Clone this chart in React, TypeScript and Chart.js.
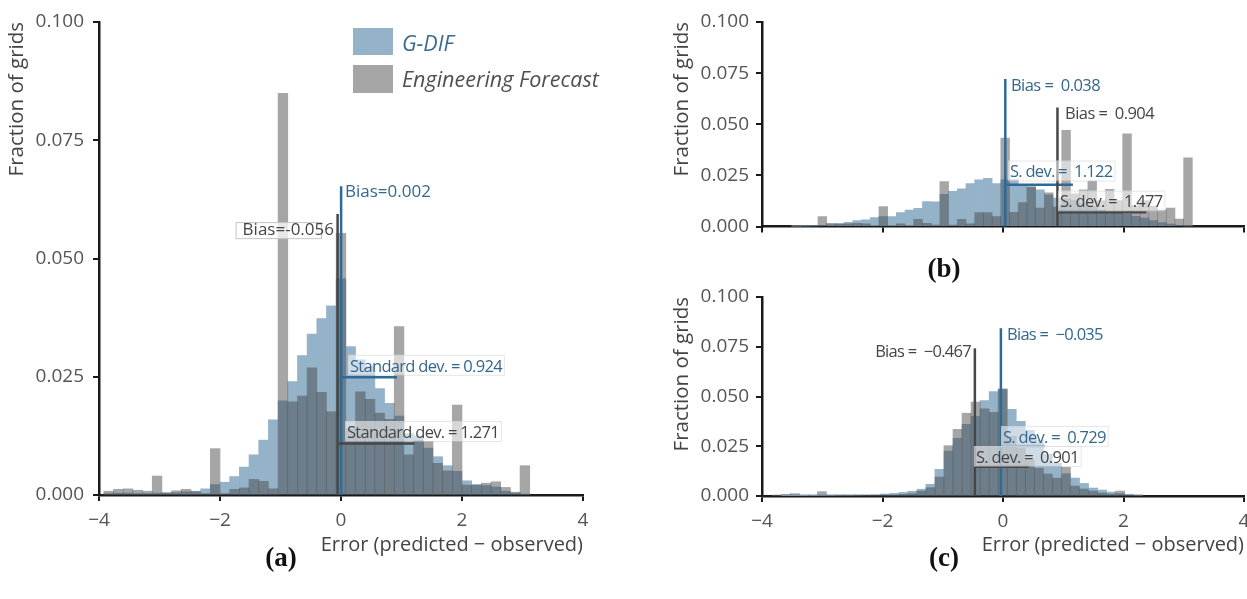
import React, { useEffect, useRef } from 'react';
import { Chart, registerables } from 'chart.js';

Chart.register(...registerables);

const FONT = "'Open Sans', 'DejaVu Sans', sans-serif";
Chart.defaults.font.family = FONT;

// ---------------- Panel (a) ----------------
const binStartA = -3.84;
const binWidthA = 0.16;
const gdifA = [
  0.0003, 0.0004, 0.0004, 0.0003, 0.0003, 0.0004, 0.0004, 0.0005, 0.0007, 0.0008,
  0.0013, 0.0022, 0.0027, 0.0039, 0.0059, 0.0085, 0.0116, 0.0159, 0.0199, 0.024,
  0.0295, 0.034, 0.0373, 0.04, 0.0457, 0.0314, 0.0286, 0.0272, 0.0225, 0.0194,
  0.0167, 0.013, 0.0125, 0.0099, 0.0081, 0.0062, 0.005, 0.003, 0.0022, 0.002,
  0.0017, 0.0008, 0.0004, 0.0002,
];
const engA = [
  0.0008, 0.0012, 0.0013, 0.001, 0.0008, 0.004, 0.0005, 0.0009, 0.0012, 0.0007,
  0.0003, 0.0098, 0.0003, 0.0012, 0.0015, 0.0033, 0.0029, 0.0013, 0.0849, 0.0197,
  0.0209, 0.0269, 0.0217, 0.0176, 0.0553, 0.014, 0.0218, 0.0202, 0.0173, 0.016,
  0.0356, 0.0085, 0.0115, 0.0113, 0.0067, 0.0051, 0.019, 0.0021, 0.0021, 0.0025,
  0.0028, 0.0016, 0.0006, 0.0062,
];
const biasA = [0.002, -0.056]; // [G-DIF, Engineering Forecast]
const sdA = [0.924, 1.271];
const biasTopA = [0.0653, 0.0594];
const sdLevelA = [0.0249, 0.0109];

// ---------------- Panel (b) ----------------
const binStartB = -3.432;
const binWidthB = 0.1445;
const gdifB = [
  0.0001, 0.0002, 0.0003, 0.0005, 0.001, 0.0016, 0.0021, 0.0029, 0.0033, 0.0044,
  0.0049, 0.0049, 0.0068, 0.0081, 0.0089, 0.0122, 0.0121, 0.0158, 0.0172, 0.0185,
  0.021, 0.0228, 0.0236, 0.021, 0.0228, 0.023, 0.02, 0.0192, 0.018, 0.0155,
  0.014, 0.0135, 0.0128, 0.0114, 0.0098, 0.0081, 0.0068, 0.0065, 0.006, 0.005,
  0.0042, 0.003, 0.002, 0.0012, 0.0005, 0.0003,
];
const engB = [
  0.0006, 0.0005, 0.0003, 0.0049, 0.0016, 0.0011, 0.0013, 0.0016, 0.0013, 0.0003,
  0.0098, 0.0003, 0.0013, 0.0005, 0.0036, 0.0016, 0.0008, 0.022, 0.0008, 0.0036,
  0.0013, 0.0068, 0.0068, 0.0049, 0.0433, 0.007, 0.0118, 0.0195, 0.009, 0.0165,
  0.0095, 0.047, 0.016, 0.018, 0.0222, 0.0127, 0.0182, 0.0127, 0.0454, 0.0103,
  0.0127, 0.01, 0.0081, 0.0091, 0.0037, 0.0336,
];
const biasB = [0.038, 0.904];
const sdB = [1.122, 1.477];
const biasTopB = [0.0722, 0.0582];
const sdLevelB = [0.0205, 0.007];

// ---------------- Panel (c) ----------------
const binStartC = -3.755;
const binWidthC = 0.15;
const gdifC = [
  0.0, 0.0002, 0.0002, 0.0002, 0.0002, 0.0003, 0.0002, 0.0003, 0.0003, 0.0004,
  0.0005, 0.0006, 0.001, 0.0013, 0.0018, 0.0024, 0.0034, 0.0059, 0.0134, 0.0226,
  0.029, 0.036, 0.04, 0.048, 0.0525, 0.0535, 0.0435, 0.0375, 0.033, 0.028,
  0.021, 0.0165, 0.0112, 0.009, 0.0063, 0.004, 0.003, 0.002, 0.0012, 0.0008,
  0.0004,
];
const engC = [
  0.0004, 0.0008, 0.0012, 0.0005, 0.0004, 0.0022, 0.0002, 0.0002, 0.0001, 0.0001,
  0.0002, 0.0002, 0.0003, 0.0005, 0.0008, 0.0012, 0.0025, 0.0042, 0.0095, 0.0253,
  0.0335, 0.0416, 0.0472, 0.0438, 0.042, 0.0538, 0.03, 0.024, 0.018, 0.014,
  0.011, 0.009, 0.0144, 0.005, 0.0035, 0.0025, 0.0015, 0.001, 0.0025, 0.0005,
  0.0003,
];
const biasC = [-0.035, -0.467];
const sdC = [0.729, 0.901];
const biasTopC = [0.0843, 0.0742];
const sdLevelC = [0.0251, 0.0147];

// ---------------- annotation texts (data coords) ----------------
type Note = { text: string; x: number; y: number; series: 0 | 1; kind: 'bias' | 'sd'; align: 'left' | 'right'; box?: 'soft' | 'framed' };
const notesA: Note[] = [
  { text: 'Bias=0.002', x: 0.066, y: 0.0641, series: 0, kind: 'bias', align: 'left' },
  { text: 'Bias=-0.056', x: -0.116, y: 0.056, series: 1, kind: 'bias', align: 'right', box: 'framed' },
  { text: 'Standard dev. = 0.924', x: 0.149, y: 0.0271, series: 0, kind: 'sd', align: 'left', box: 'soft' },
  { text: 'Standard dev. = 1.271', x: 0.099, y: 0.0131, series: 1, kind: 'sd', align: 'left', box: 'soft' },
];
const notesB: Note[] = [
  { text: 'Bias =  0.038', x: 0.133, y: 0.0688, series: 0, kind: 'bias', align: 'left' },
  { text: 'Bias =  0.904', x: 1.03, y: 0.0551, series: 1, kind: 'bias', align: 'left' },
  { text: 'S. dev. =  1.122', x: 0.116, y: 0.0264, series: 0, kind: 'sd', align: 'left', box: 'soft' },
  { text: 'S. dev. =  1.477', x: 0.946, y: 0.0117, series: 1, kind: 'sd', align: 'left', box: 'soft' },
];
const notesC: Note[] = [
  { text: 'Bias =  \u22120.467', x: -0.531, y: 0.0724, series: 1, kind: 'bias', align: 'right' },
  { text: 'Bias =  \u22120.035', x: 0.066, y: 0.0809, series: 0, kind: 'bias', align: 'left' },
  { text: 'S. dev. =  0.729', x: 0.0, y: 0.0291, series: 0, kind: 'sd', align: 'left', box: 'soft' },
  { text: 'S. dev. =  0.901', x: -0.45, y: 0.0191, series: 1, kind: 'sd', align: 'left', box: 'soft' },
];

const BLUE_BAR = 'rgb(148,178,200)';
const GRAY_BAR = 'rgba(66,66,66,0.47)';
const LINE_COLORS = ['#2d6a98', '#474747'];
const TEXT_COLORS = ['#33678f', '#454545'];
const AXIS = '#1a1a1a';
const TICK_TEXT = '#555555';
const TITLE_TEXT = '#444444';

type TextStyle = { size: number; spacing: number };
type Panel = {
  start: number; width: number; gdif: number[]; eng: number[];
  bias: number[]; sd: number[]; biasTop: number[]; sdLevel: number[]; notes: Note[];
  pad: { top: number; left: number; right: number; bottom: number };
  yWidth: number; xHeight: number; yTitlePad: number; yTickPad: number; xLabels: boolean;
  biasText: TextStyle; sdText: TextStyle;
};

const panelA: Panel = {
  start: binStartA, width: binWidthA, gdif: gdifA, eng: engA, bias: biasA, sd: sdA,
  biasTop: biasTopA, sdLevel: sdLevelA, notes: notesA,
  pad: { top: 22, left: 0, right: 17, bottom: 0 }, yWidth: 99, xHeight: 65, yTitlePad: 5, yTickPad: 9, xLabels: true,
  biasText: { size: 17, spacing: 0 }, sdText: { size: 16.5, spacing: -0.7 },
};
const panelB: Panel = {
  start: binStartB, width: binWidthB, gdif: gdifB, eng: engB, bias: biasB, sd: sdB,
  biasTop: biasTopB, sdLevel: sdLevelB, notes: notesB,
  pad: { top: 22, left: 0, right: 3, bottom: 0 }, yWidth: 102, xHeight: 18, yTitlePad: 10, yTickPad: 7, xLabels: false,
  biasText: { size: 16.5, spacing: -0.55 }, sdText: { size: 16.5, spacing: -0.72 },
};
const panelC: Panel = {
  start: binStartC, width: binWidthC, gdif: gdifC, eng: engC, bias: biasC, sd: sdC,
  biasTop: biasTopC, sdLevel: sdLevelC, notes: notesC,
  pad: { top: 22, left: 0, right: 3, bottom: 0 }, yWidth: 102, xHeight: 64, yTitlePad: 10, yTickPad: 7, xLabels: true,
  biasText: { size: 16.5, spacing: -0.7 }, sdText: { size: 16.5, spacing: -0.7 },
};

const fmtX = (v: any) => (Number(v) < 0 ? '\u2212' + Math.abs(Number(v)) : String(v));

function notesPlugin(p: Panel) {
  return {
    id: 'notes',
    afterDatasetsDraw(chart: any) {
      const { ctx, scales } = chart;
      ctx.save();
      ctx.textBaseline = 'middle';
      ctx.textAlign = 'left';
      for (const n of p.notes) {
        const st = n.kind === 'bias' ? p.biasText : p.sdText;
        ctx.font = `${st.size}px ${FONT}`;
        (ctx as any).letterSpacing = `${st.spacing}px`;
        const px = scales.x.getPixelForValue(n.x);
        const py = scales.y.getPixelForValue(n.y);
        const w = ctx.measureText(n.text).width;
        const left = n.align === 'right' ? px - w : px;
        if (n.box === 'soft') {
          ctx.fillStyle = 'rgba(255,255,255,0.55)';
          ctx.fillRect(left - 2, py - 12, w + 4, 20);
          ctx.strokeStyle = 'rgba(200,200,200,0.45)';
          ctx.lineWidth = 1;
          ctx.strokeRect(left - 2 + 0.5, py - 12 + 0.5, w + 4, 20);
        } else if (n.box === 'framed') {
          ctx.fillStyle = 'rgba(255,255,255,0.75)';
          ctx.fillRect(left - 7, py - 8, w - 6, 16);
          ctx.strokeStyle = '#c4c4c4';
          ctx.lineWidth = 1;
          ctx.strokeRect(left - 7 + 0.5, py - 8 + 0.5, w - 6, 16);
        }
        ctx.fillStyle = TEXT_COLORS[n.series];
        ctx.fillText(n.text, left, py);
      }
      ctx.restore();
    },
  };
}

function buildConfig(p: Panel): any {
  const bars = (vals: number[]) => vals.map((v, i) => ({ x: p.start + i * p.width, y: v }));
  const lineDs = (pts: { x: number; y: number }[], s: number) => ({
    type: 'line', data: pts, borderColor: LINE_COLORS[s], borderWidth: 2.5,
    pointRadius: 0, fill: false, tension: 0, order: 1,
  });
  const datasets: any[] = [
    { type: 'bar', label: 'G-DIF', data: bars(p.gdif), backgroundColor: BLUE_BAR, borderWidth: 0,
      grouped: false, barPercentage: 1, categoryPercentage: 1, order: 3 },
    { type: 'bar', label: 'Engineering Forecast', data: bars(p.eng), backgroundColor: GRAY_BAR, borderWidth: 0,
      grouped: false, barPercentage: 1, categoryPercentage: 1, order: 2 },
  ];
  [1, 0].forEach((s) => {
    datasets.push(lineDs([{ x: p.bias[s], y: 0 }, { x: p.bias[s], y: p.biasTop[s] }], s));
    datasets.push(lineDs([{ x: p.bias[s], y: p.sdLevel[s] }, { x: p.bias[s] + p.sd[s], y: p.sdLevel[s] }], s));
  });
  return {
    type: 'bar',
    data: { datasets },
    options: {
      responsive: false,
      animation: false,
      events: [],
      layout: { padding: p.pad },
      plugins: { legend: { display: false }, tooltip: { enabled: false } },
      scales: {
        x: {
          type: 'linear', min: -4, max: 4, offset: false,
          grid: { offset: false, drawOnChartArea: false, drawTicks: true, tickLength: 6, color: AXIS, lineWidth: 2 },
          border: { display: true, color: AXIS, width: 2.5 },
          ticks: { display: p.xLabels, stepSize: 2, padding: 8, color: TICK_TEXT, font: { size: 19, family: FONT },
            callback: fmtX, maxRotation: 0, autoSkip: false },
          title: { display: p.xLabels, text: 'Error (predicted \u2212 observed)', align: 'end', color: TITLE_TEXT,
            font: { size: 20, family: FONT }, padding: { top: 0, bottom: 3 } },
          afterFit: (s: any) => { s.height = p.xHeight; s.paddingLeft = 0; s.paddingRight = 0; },
        },
        y: {
          type: 'linear', min: 0, max: 0.1,
          grid: { drawOnChartArea: false, drawTicks: true, tickLength: 6, color: AXIS, lineWidth: 2 },
          border: { display: true, color: AXIS, width: 2.5 },
          ticks: { stepSize: 0.025, padding: p.yTickPad, color: TICK_TEXT, font: { size: 19, family: FONT },
            callback: (v: any) => Number(v).toFixed(3) },
          title: { display: true, text: 'Fraction of grids', align: 'end', color: TITLE_TEXT,
            font: { size: 20.5, family: FONT }, padding: { top: p.yTitlePad, bottom: 0 } },
          afterFit: (s: any) => { s.width = p.yWidth; },
        },
      },
    },
    plugins: [notesPlugin(p)],
  };
}

const captionStyle = (left: number, top: number): React.CSSProperties => ({
  position: 'absolute', left, top, transform: 'translate(-50%, -50%)',
  fontFamily: "'Liberation Serif', 'Times New Roman', serif", fontWeight: 'bold', fontSize: 27, color: '#111',
  whiteSpace: 'nowrap',
});

export default function App() {
  const refA = useRef<HTMLCanvasElement>(null);
  const refB = useRef<HTMLCanvasElement>(null);
  const refC = useRef<HTMLCanvasElement>(null);

  useEffect(() => {
    const charts = [
      new Chart(refA.current as HTMLCanvasElement, buildConfig(panelA)),
      new Chart(refB.current as HTMLCanvasElement, buildConfig(panelB)),
      new Chart(refC.current as HTMLCanvasElement, buildConfig(panelC)),
    ];
    return () => charts.forEach((c) => c.destroy());
  }, []);

  const legendText: React.CSSProperties = {
    position: 'absolute', left: 402, fontFamily: FONT, fontStyle: 'italic', fontSize: 21.5,
    transform: 'translateY(-50%)', whiteSpace: 'nowrap',
  };

  return (
    <div style={{ position: 'absolute', left: 0, top: 0, width: 1247, height: 599, background: '#fff', overflow: 'hidden' }}>
      <canvas ref={refA} width={600} height={560} style={{ position: 'absolute', left: 0, top: 0 }} />
      <canvas ref={refB} width={587} height={245} style={{ position: 'absolute', left: 660, top: 0 }} />
      <canvas ref={refC} width={587} height={285} style={{ position: 'absolute', left: 660, top: 275 }} />
      <div style={{ position: 'absolute', left: 353, top: 28, width: 40, height: 27, background: BLUE_BAR }} />
      <div style={{ ...legendText, top: 42, color: '#3a6a90' }}>G-DIF</div>
      <div style={{ position: 'absolute', left: 353, top: 65, width: 40, height: 28, background: 'rgb(166,166,166)' }} />
      <div style={{ ...legendText, top: 78, color: '#505050' }}>Engineering Forecast</div>
      <div style={captionStyle(281, 557)}>(a)</div>
      <div style={captionStyle(944, 268)}>(b)</div>
      <div style={captionStyle(944, 557)}>(c)</div>
    </div>
  );
}
